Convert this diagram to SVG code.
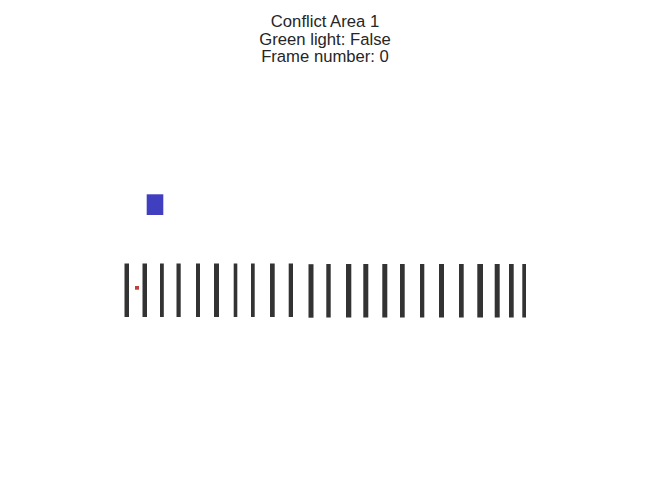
<svg xmlns="http://www.w3.org/2000/svg" width="650" height="500" viewBox="0 0 650 500">
<style>
.t{font-family:"Liberation Sans",Arial,sans-serif;font-size:16.67px;fill:#262626;text-anchor:middle}
.b{fill:#333333}
</style>
<rect width="650" height="500" fill="#ffffff"/>
<g id="title">
<text class="t" x="325" y="27">Conflict Area 1</text>
<text class="t" x="325" y="44.5">Green light: False</text>
<text class="t" x="325" y="62">Frame number: 0</text>
</g>
<g id="bars">
<rect class="b" x="124.5" y="263.5" width="4.5" height="53.5"/>
<rect class="b" x="142.5" y="263.5" width="4.5" height="53.5"/>
<rect class="b" x="160" y="263.5" width="3.8" height="53.5"/>
<rect class="b" x="176.5" y="263.5" width="4.2" height="53.5"/>
<rect class="b" x="196" y="263.5" width="4" height="53.5"/>
<rect class="b" x="214" y="263.5" width="5" height="53.5"/>
<rect class="b" x="233.7" y="263.5" width="3.6" height="53.5"/>
<rect class="b" x="251" y="263.5" width="3.7" height="53.5"/>
<rect class="b" x="270" y="263.5" width="4.7" height="53.5"/>
<rect class="b" x="288.7" y="263.5" width="4.3" height="53.5"/>
<rect class="b" x="308.5" y="264.2" width="5" height="53.5"/>
<rect class="b" x="326.3" y="264" width="4.4" height="53.5"/>
<rect class="b" x="346" y="264" width="5.3" height="53.5"/>
<rect class="b" x="363.3" y="264" width="5" height="53.5"/>
<rect class="b" x="382.3" y="264" width="5" height="53.5"/>
<rect class="b" x="400" y="264" width="4.7" height="53.5"/>
<rect class="b" x="420" y="264" width="4.3" height="53.5"/>
<rect class="b" x="439" y="264" width="5" height="53.5"/>
<rect class="b" x="459" y="264" width="4.7" height="53.5"/>
<rect class="b" x="477.3" y="264" width="5.7" height="53.5"/>
<rect class="b" x="494.7" y="264" width="5" height="53.5"/>
<rect class="b" x="509" y="264" width="4.7" height="53.5"/>
<rect class="b" x="522.3" y="264" width="3.7" height="53.5"/>
</g>
<g id="blue-vehicle">
<rect x="146.7" y="194.3" width="16.6" height="20.7" fill="#3f3fbf"/>
</g>
<g id="red-vehicle">
<rect x="135" y="286" width="4" height="3.7" fill="#bf3f3f"/>
</g>
</svg>
